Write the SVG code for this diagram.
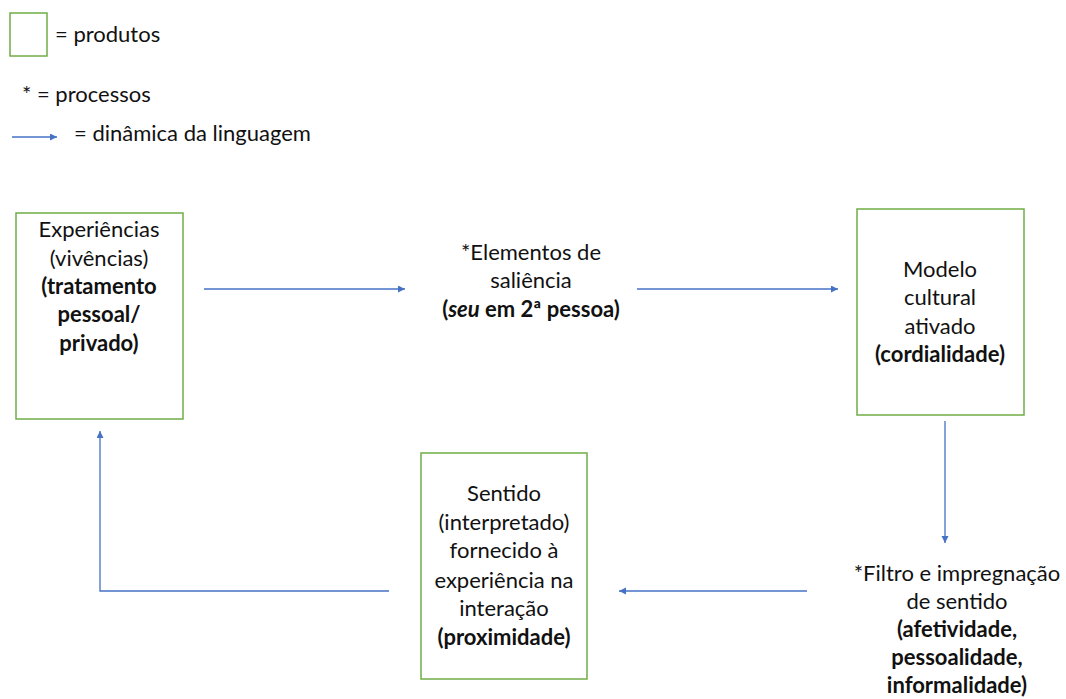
<svg xmlns="http://www.w3.org/2000/svg" width="1066" height="699" viewBox="0 0 1066 699">
<style>
.box{fill:#fff;stroke:#70AD47;stroke-width:1.5}
.t{font-family:Lato,"Liberation Sans",sans-serif;font-size:22px;fill:#111;text-anchor:middle}
.l{font-family:Lato,"Liberation Sans",sans-serif;font-size:22px;fill:#111}
.b{font-weight:bold}
.c{fill:none;stroke:#4472C4;stroke-width:1.3}
</style>
<defs>
<marker id="ah" markerWidth="9" markerHeight="9" refX="7" refY="3.5" orient="auto" markerUnits="userSpaceOnUse">
<path d="M0,0 L7,3.5 L0,7 Z" fill="#4472C4"/>
</marker>
</defs>
<g id="legend">
<rect class="box" x="10" y="13" width="37" height="43"/>
<text class="l" x="55" y="42">= produtos</text>
<text class="l" x="22" y="102">* = processos</text>
<line class="c" x1="12" y1="137" x2="57" y2="137" marker-end="url(#ah)"/>
<text class="l" x="74" y="141">= dinâmica da linguagem</text>
</g>
<g id="connectors">
<line class="c" x1="204" y1="289" x2="405" y2="289" marker-end="url(#ah)"/>
<line class="c" x1="637" y1="289" x2="838" y2="289" marker-end="url(#ah)"/>
<line class="c" x1="945" y1="421" x2="945" y2="543" marker-end="url(#ah)"/>
<line class="c" x1="807" y1="591" x2="619" y2="591" marker-end="url(#ah)"/>
<polyline class="c" points="389,591 100,591 100,431" marker-end="url(#ah)"/>
</g>
<g id="experiencias">
<rect class="box" x="16" y="213" width="167" height="206"/>
<text class="t" x="99" y="237">Experiências</text>
<text class="t" x="99" y="266">(vivências)</text>
<text class="t b" x="99" y="294">(tratamento</text>
<text class="t b" x="99" y="322">pessoal/</text>
<text class="t b" x="99" y="351">privado)</text>
</g>
<g id="elementos">
<text class="t" x="531" y="260">*Elementos de</text>
<text class="t" x="531" y="288">saliência</text>
<text class="t b" x="531" y="317">(<tspan font-style="italic">seu</tspan> em 2ª pessoa)</text>
</g>
<g id="modelo">
<rect class="box" x="857" y="209" width="167" height="206"/>
<text class="t" x="940" y="277">Modelo</text>
<text class="t" x="940" y="305">cultural</text>
<text class="t" x="940" y="334">ativado</text>
<text class="t b" x="940" y="362">(cordialidade)</text>
</g>
<g id="filtro">
<text class="t" x="957" y="581">*Filtro e impregnação</text>
<text class="t" x="957" y="609">de sentido</text>
<text class="t b" x="957" y="637">(afetividade,</text>
<text class="t b" x="957" y="665">pessoalidade,</text>
<text class="t b" x="957" y="693">informalidade)</text>
</g>
<g id="sentido">
<rect class="box" x="421" y="453" width="166" height="226"/>
<text class="t" x="504" y="501">Sentido</text>
<text class="t" x="504" y="530">(interpretado)</text>
<text class="t" x="504" y="558">fornecido à</text>
<text class="t" x="504" y="588">experiência na</text>
<text class="t" x="504" y="616">interação</text>
<text class="t b" x="504" y="645">(proximidade)</text>
</g>
</svg>
